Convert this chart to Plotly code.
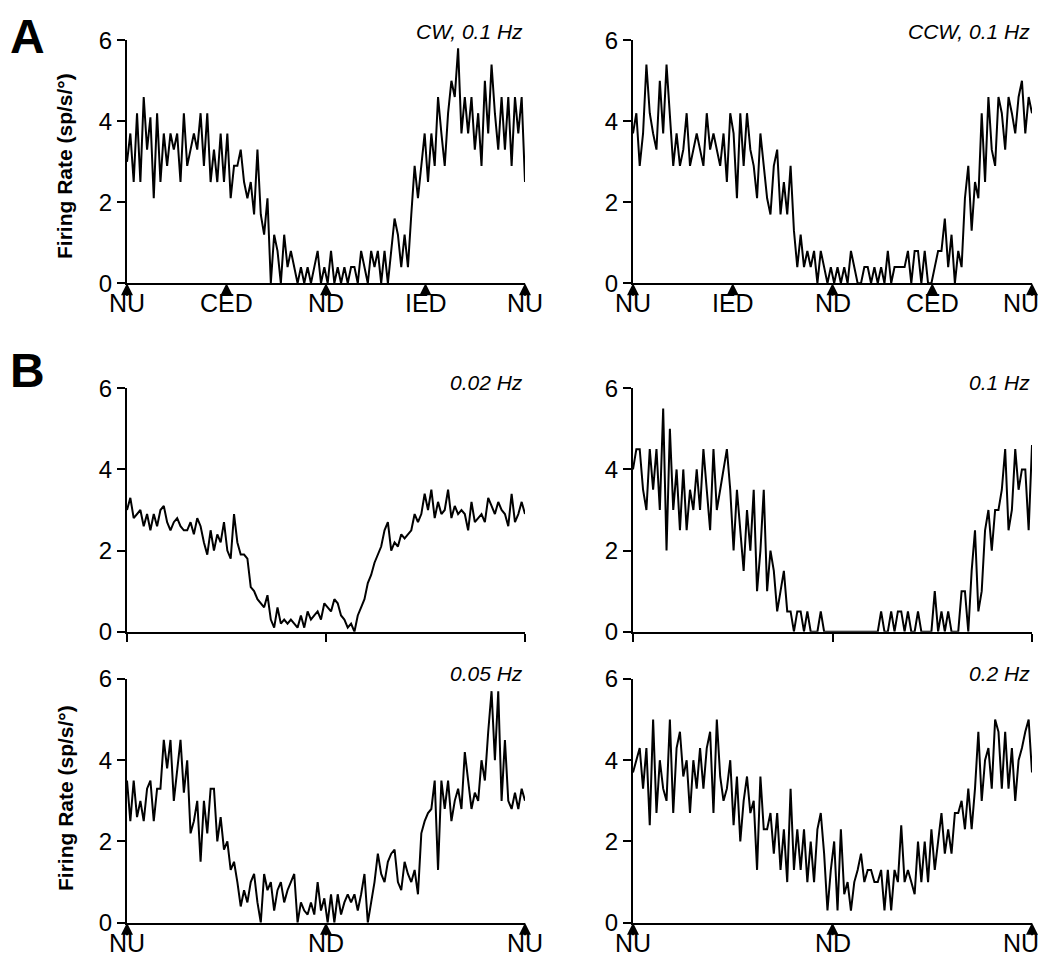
import numpy as np
import plotly.graph_objects as go

# ---------------- data (firing rate, sp/s/deg), 120 bins over 0..360 deg ----------------
cw_01 = [3.0, 3.7, 2.5, 4.2, 2.5, 4.6, 3.3, 4.1, 2.1, 4.2,
         2.5, 3.7, 2.9, 3.7, 3.3, 3.7, 2.5, 4.2, 2.9, 3.3,
         3.7, 3.3, 4.2, 2.9, 4.2, 2.5, 3.3, 2.5, 3.7, 2.5,
         3.7, 2.1, 2.9, 2.9, 3.3, 2.5, 2.1, 2.5, 1.7, 3.3,
         1.7, 1.2, 2.1, 0.0, 1.2, 0.8, 0.0, 1.2, 0.4, 0.8,
         0.4, 0.0, 0.4, 0.0, 0.4, 0.0, 0.4, 0.8, 0.0, 0.4,
         0.0, 0.8, 0.0, 0.4, 0.0, 0.4, 0.0, 0.4, 0.4, 0.0,
         0.8, 0.4, 0.0, 0.8, 0.4, 0.8, 0.0, 0.8, 0.0, 0.8,
         1.6, 1.2, 0.4, 1.2, 0.4, 1.7, 2.9, 2.1, 2.9, 3.7,
         2.5, 3.7, 2.9, 4.6, 3.7, 2.9, 4.2, 5.0, 4.6, 5.8,
         3.7, 4.6, 3.7, 4.6, 3.3, 4.2, 2.9, 5.0, 3.7, 5.4,
         4.2, 3.3, 4.6, 3.3, 4.6, 2.9, 4.6, 3.7, 4.6, 2.5]

ccw_01 = [3.7, 4.2, 2.9, 3.7, 5.4, 4.2, 3.7, 3.3, 5.0, 3.7,
          5.4, 4.2, 2.9, 3.7, 2.9, 3.3, 4.2, 2.9, 3.3, 3.7,
          3.3, 2.9, 4.2, 3.3, 3.7, 3.3, 2.9, 3.7, 2.5, 4.2,
          3.7, 2.1, 4.2, 2.9, 4.2, 3.3, 2.9, 2.1, 3.7, 2.9,
          2.1, 1.7, 2.9, 3.3, 1.7, 2.5, 1.7, 2.9, 1.3, 0.4,
          1.2, 0.4, 0.8, 0.4, 0.8, 0.0, 0.8, 0.4, 0.0, 0.4,
          0.0, 0.4, 0.0, 0.4, 0.0, 0.8, 0.4, 0.0, 0.0, 0.4,
          0.4, 0.0, 0.4, 0.0, 0.4, 0.0, 0.8, 0.0, 0.4, 0.4,
          0.4, 0.4, 0.8, 0.0, 0.8, 0.8, 0.0, 0.8, 0.0, 0.0,
          0.4, 0.8, 0.8, 1.6, 0.4, 1.2, 0.0, 0.8, 0.4, 2.1,
          2.9, 1.3, 2.5, 2.1, 4.2, 2.5, 4.6, 3.3, 2.9, 4.6,
          4.2, 3.3, 4.6, 4.2, 3.7, 4.6, 5.0, 3.7, 4.6, 4.2]

hz_002 = [3.0, 3.3, 2.8, 2.9, 3.0, 2.6, 2.9, 2.5, 2.9, 2.6,
          3.0, 3.1, 2.7, 2.5, 2.7, 2.8, 2.6, 2.5, 2.5, 2.7,
          2.4, 2.8, 2.6, 2.2, 1.9, 2.5, 2.0, 2.4, 2.2, 2.7,
          2.0, 1.8, 2.9, 2.2, 1.9, 1.9, 1.8, 1.1, 1.0, 0.8,
          0.7, 0.6, 0.9, 0.3, 0.1, 0.6, 0.2, 0.3, 0.2, 0.3,
          0.2, 0.1, 0.4, 0.1, 0.5, 0.3, 0.4, 0.5, 0.3, 0.7,
          0.6, 0.5, 0.8, 0.7, 0.4, 0.3, 0.1, 0.2, 0.0, 0.4,
          0.6, 0.8, 1.2, 1.4, 1.7, 1.9, 2.1, 2.5, 2.7, 2.0,
          2.2, 2.1, 2.4, 2.3, 2.4, 2.5, 2.9, 2.7, 2.9, 3.4,
          3.0, 3.5, 2.8, 3.2, 2.9, 3.0, 3.5, 2.8, 3.1, 2.9,
          3.0, 2.9, 2.5, 3.2, 2.7, 2.8, 2.9, 2.7, 3.3, 3.1,
          2.9, 3.2, 3.0, 2.9, 2.6, 3.4, 2.7, 2.9, 3.2, 2.9]

hz_01 = [4.0, 4.5, 4.5, 3.5, 3.0, 4.5, 3.5, 4.5, 3.0, 5.5,
         2.0, 5.0, 3.0, 4.0, 2.5, 4.0, 2.5, 3.5, 3.0, 4.0,
         3.0, 4.5, 3.5, 2.5, 4.5, 3.0, 3.5, 4.0, 4.5, 3.5,
         2.0, 3.5, 2.5, 1.5, 3.0, 2.0, 3.5, 1.0, 2.0, 3.5,
         1.0, 2.0, 1.5, 0.5, 1.0, 1.5, 0.5, 0.5, 0.0, 0.5,
         0.5, 0.0, 0.5, 0.0, 0.0, 0.0, 0.5, 0.0, 0.0, 0.0,
         0.0, 0.0, 0.0, 0.0, 0.0, 0.0, 0.0, 0.0, 0.0, 0.0,
         0.0, 0.0, 0.0, 0.0, 0.5, 0.0, 0.0, 0.5, 0.0, 0.5,
         0.5, 0.0, 0.5, 0.0, 0.0, 0.5, 0.0, 0.0, 0.0, 0.0,
         1.0, 0.0, 0.5, 0.0, 0.5, 0.0, 0.0, 0.0, 1.0, 1.0,
         0.0, 1.5, 2.5, 0.5, 1.0, 2.5, 3.0, 2.0, 3.0, 3.0,
         3.5, 4.5, 2.5, 3.0, 4.5, 3.5, 4.0, 4.0, 2.5, 4.6]

hz_005 = [3.5, 2.5, 3.5, 2.6, 3.0, 2.5, 3.3, 3.5, 2.5, 3.3,
          3.3, 4.5, 3.8, 4.5, 3.0, 3.8, 4.5, 3.2, 4.0, 2.2,
          2.5, 3.0, 1.5, 3.0, 2.2, 3.3, 3.3, 2.0, 2.6, 1.8,
          2.0, 1.3, 1.5, 1.0, 0.4, 0.8, 0.5, 1.0, 1.2, 0.5,
          0.0, 1.2, 0.8, 1.0, 0.3, 0.8, 1.0, 0.5, 0.8, 1.0,
          1.2, 0.0, 0.5, 0.3, 0.2, 0.5, 0.2, 1.0, 0.3, 0.6,
          0.0, 0.7, 0.0, 0.7, 0.2, 0.5, 0.7, 0.5, 0.7, 0.3,
          0.7, 1.2, 0.0, 0.5, 1.0, 1.7, 1.2, 1.0, 1.5, 1.7,
          1.8, 1.0, 0.8, 1.5, 1.2, 1.0, 1.3, 0.7, 2.2, 2.5,
          2.7, 2.8, 3.5, 1.3, 3.5, 2.8, 3.5, 2.5, 3.0, 3.3,
          2.8, 4.2, 3.5, 2.8, 3.2, 3.0, 4.0, 3.5, 4.7, 5.7,
          4.0, 5.7, 3.0, 4.5, 3.0, 2.8, 3.2, 2.8, 3.3, 3.0]

hz_02 = [3.7, 4.0, 4.3, 3.3, 4.3, 2.4, 5.0, 2.7, 4.0, 3.3,
         3.0, 5.0, 2.7, 4.3, 4.7, 3.6, 4.0, 2.7, 4.0, 3.3,
         4.3, 3.3, 4.3, 4.7, 2.7, 5.0, 3.6, 3.0, 3.3, 4.0,
         2.4, 3.6, 2.0, 3.0, 3.6, 2.7, 3.0, 1.3, 3.6, 2.3,
         2.3, 2.7, 1.7, 2.7, 1.3, 2.3, 1.0, 3.3, 1.3, 2.3,
         1.3, 2.3, 1.0, 2.0, 1.0, 2.3, 2.7, 1.7, 0.3, 1.3,
         2.0, 0.3, 2.3, 0.7, 1.0, 0.3, 1.0, 1.3, 1.7, 1.0,
         1.3, 1.3, 1.0, 1.0, 1.3, 0.3, 1.3, 0.3, 1.3, 1.0,
         2.4, 1.0, 1.3, 1.0, 0.7, 2.0, 1.0, 2.0, 1.0, 2.3,
         1.3, 2.0, 2.7, 1.7, 2.3, 1.7, 2.7, 2.7, 3.0, 2.3,
         3.3, 2.3, 3.3, 4.7, 3.0, 4.0, 4.3, 3.3, 5.0, 4.7,
         3.3, 4.7, 3.3, 4.3, 3.0, 4.0, 4.3, 4.7, 5.0, 3.7]

panel_titles = ["CW, 0.1 Hz", "CCW, 0.1 Hz", "0.02 Hz", "0.1 Hz", "0.05 Hz", "0.2 Hz"]
series = [cw_01, ccw_01, hz_002, hz_01, hz_005, hz_02]

tick_pos_A = [0, 90, 180, 270, 360]
labels_A_left = ["NU", "CED", "ND", "IED", "NU"]
labels_A_right = ["NU", "IED", "ND", "CED", "NU"]
tick_pos_B = [0, 180, 360]
labels_B = ["NU", "ND", "NU"]
y_ticks = [0, 2, 4, 6]

# ---------------- layout geometry (page pixels; the page body has an 8px margin) ----------------
OFF = 8
W, H = 1050 - 2 * OFF, 980 - 2 * OFF
FONT = "Liberation Sans, Arial, Helvetica, sans-serif"


def px(x):
    return (x - OFF) / W


def py(y):
    return 1 - (y - OFF) / H


xdom_left = [px(127), px(525)]
xdom_right = [px(633), px(1032)]
ydom_rows = [[py(283.3), py(40.3)],
             [py(631.7), py(388.3)],
             [py(922.7), py(679.0)]]

fig = go.Figure()
layout = dict(template="none", width=W, height=H, autosize=False,
              margin=dict(l=0, r=0, t=0, b=0, pad=0),
              paper_bgcolor="white", plot_bgcolor="white", showlegend=False,
              font=dict(family=FONT, color="black"))
annotations = []

for k in range(6):
    row, col = k // 2, k % 2
    n = k + 1
    xa = "x" if n == 1 else f"x{n}"
    ya = "y" if n == 1 else f"y{n}"
    vals = series[k]
    xs = np.linspace(0, 360, len(vals))
    fig.add_trace(go.Scatter(x=xs, y=vals, mode="lines", xaxis=xa, yaxis=ya,
                             line=dict(color="black", width=2), hoverinfo="skip"))

    xdom = xdom_left if col == 0 else xdom_right
    ydom = ydom_rows[row]
    xcfg = dict(domain=xdom, anchor=ya, range=[0, 360], showline=True, linecolor="black",
                linewidth=2, showgrid=False, zeroline=False, fixedrange=True, automargin=False,
                showticklabels=False)
    if row == 1:
        xcfg.update(tickmode="array", tickvals=tick_pos_B, ticks="outside", ticklen=8,
                    tickwidth=2, tickcolor="black")
        pos, labs = [], []
    else:
        xcfg.update(ticks="", tickmode="array", tickvals=[])
        if row == 0:
            pos = tick_pos_A
            labs = labels_A_left if col == 0 else labels_A_right
        else:
            pos = tick_pos_B
            labs = labels_B
    ycfg = dict(domain=ydom, anchor=xa, range=[0, 6], tickmode="array", tickvals=y_ticks,
                ticks="outside", ticklen=8, tickwidth=2, tickcolor="black",
                showline=True, linecolor="black", linewidth=2, showgrid=False,
                zeroline=False, fixedrange=True, automargin=False,
                tickfont=dict(family=FONT, size=24, color="black"))
    layout["xaxis" if n == 1 else f"xaxis{n}"] = xcfg
    layout["yaxis" if n == 1 else f"yaxis{n}"] = ycfg

    for p, lab in zip(pos, labs):
        # upward arrow onto the axis
        annotations.append(dict(x=p, y=0, xref=xa, yref=ya, text="", showarrow=True,
                                ax=0, ay=14, arrowhead=2, arrowsize=1.2, arrowwidth=2,
                                arrowcolor="black", standoff=0))
        # direction label below the arrow (last label of right panels kept inside the page)
        at_edge = (col == 1 and p == 360)
        annotations.append(dict(x=p, y=0, xref=xa, yref=ya, text=lab, showarrow=False,
                                xanchor="right" if at_edge else "center", yanchor="middle",
                                xshift=9 if at_edge else 0, yshift=-20,
                                font=dict(family=FONT, size=25, color="black")))

    # italic panel title, right aligned
    title_y = [py(31), py(383), py(673)][row]
    annotations.append(dict(x=xdom[1], y=title_y, xref="paper", yref="paper",
                            text=f"<i>{panel_titles[k]}</i>", showarrow=False,
                            xanchor="right", yanchor="middle",
                            font=dict(family=FONT, size=21, color="black")))

# panel letters
annotations.append(dict(x=px(27), y=1, xref="paper", yref="paper", text="<b>A</b>",
                        showarrow=False, xanchor="center", yanchor="top",
                        font=dict(family=FONT, size=48, color="black")))
annotations.append(dict(x=px(27), y=py(370), xref="paper", yref="paper", text="<b>B</b>",
                        showarrow=False, xanchor="center", yanchor="middle",
                        font=dict(family=FONT, size=48, color="black")))
# y-axis titles
for yc in [py(166), py(798)]:
    annotations.append(dict(x=px(65), y=yc, xref="paper", yref="paper",
                            text="<b>Firing Rate (sp/s/°)</b>", showarrow=False,
                            textangle=-90, xanchor="center", yanchor="middle",
                            font=dict(family=FONT, size=21, color="black")))

layout["annotations"] = annotations
fig.update_layout(**layout)
fig.write_html("out.html")
